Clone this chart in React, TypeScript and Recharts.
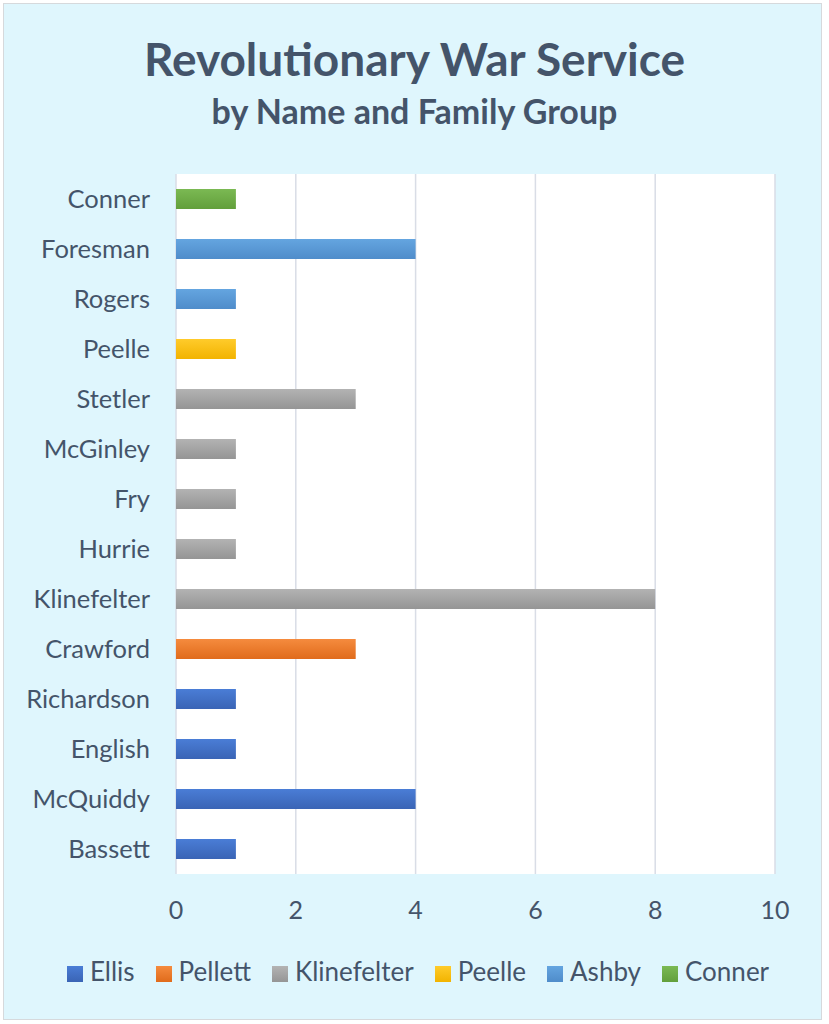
import React from 'react';
import {
  BarChart,
  Bar,
  XAxis,
  YAxis,
  CartesianGrid,
  Legend,
} from 'recharts';

// categories top to bottom, with the family group each belongs to
const names = [
  'Conner', 'Foresman', 'Rogers', 'Peelle', 'Stetler', 'McGinley', 'Fry',
  'Hurrie', 'Klinefelter', 'Crawford', 'Richardson', 'English', 'McQuiddy', 'Bassett',
];
const groupOf = [
  'Conner', 'Ashby', 'Ashby', 'Peelle', 'Klinefelter', 'Klinefelter', 'Klinefelter',
  'Klinefelter', 'Klinefelter', 'Pellett', 'Ellis', 'Ellis', 'Ellis', 'Ellis',
];
const counts = [1, 4, 1, 1, 3, 1, 1, 1, 8, 3, 1, 1, 4, 1];

const groups = ['Ellis', 'Pellett', 'Klinefelter', 'Peelle', 'Ashby', 'Conner'];
const xTicks = [0, 2, 4, 6, 8, 10];

const groupColors: Record<string, [string, string, string]> = {
  // [legend color, gradient top, gradient bottom]
  Ellis: ['#4472C4', '#4A7DD6', '#3A64B5'],
  Pellett: ['#ED7D31', '#F58B3E', '#E06B1B'],
  Klinefelter: ['#A5A5A5', '#B3B3B3', '#959595'],
  Peelle: ['#FFC000', '#FFCB2B', '#F2B300'],
  Ashby: ['#5B9BD5', '#64A5E0', '#4F8CCA'],
  Conner: ['#70AD47', '#7BB953', '#629F3B'],
};

const rows = names.map((name, i) => {
  const row: Record<string, string | number | null> = { name };
  groups.forEach((g) => {
    row[g] = groupOf[i] === g ? counts[i] : null;
  });
  return row;
});

const FONT = 'Lato, "Open Sans", sans-serif';
const INK = '#44546A';

const App: React.FC = () => {
  return (
    <div style={{ position: 'absolute', left: 0, top: 0, width: 829, height: 1024, background: '#fff' }}>
      <div
        style={{
          position: 'absolute',
          left: 3,
          top: 3,
          width: 817,
          height: 1015,
          background: '#DFF6FD',
          border: '1px solid #D6D9DC',
        }}
      />
      <div
        style={{
          position: 'absolute',
          left: 0,
          top: 31,
          width: 829,
          textAlign: 'center',
          fontFamily: FONT,
          fontWeight: 700,
          fontSize: 46,
          lineHeight: '56px',
          color: INK,
        }}
      >
        Revolutionary War Service
      </div>
      <div
        style={{
          position: 'absolute',
          left: 0,
          top: 90,
          width: 829,
          textAlign: 'center',
          fontFamily: FONT,
          fontWeight: 700,
          fontSize: 34,
          lineHeight: '42px',
          color: INK,
        }}
      >
        by Name and Family Group
      </div>
      <div style={{ position: 'absolute', left: 0, top: 0 }}>
        <BarChart
          width={829}
          height={1024}
          data={rows}
          layout="vertical"
          barSize={20}
          margin={{ top: 174, right: 54, left: 0, bottom: 78 }}
          style={{ fontFamily: FONT }}
        >
          <defs>
            {groups.map((g) => (
              <linearGradient key={g} id={`grad-${g}`} x1="0" y1="0" x2="0" y2="1">
                <stop offset="0%" stopColor={groupColors[g][1]} />
                <stop offset="100%" stopColor={groupColors[g][2]} />
              </linearGradient>
            ))}
          </defs>
          <CartesianGrid horizontal={false} fill="#FFFFFF" stroke="#D9DDE6" strokeWidth={1.5} />
          <XAxis
            type="number"
            domain={[0, 10]}
            ticks={xTicks}
            height={40}
            axisLine={false}
            tickLine={false}
            tickSize={0}
            tickMargin={27}
            tick={{ fill: INK, fontSize: 25 }}
          />
          <YAxis
            type="category"
            dataKey="name"
            width={176}
            axisLine={false}
            tickLine={false}
            tickSize={0}
            tickMargin={26}
            interval={0}
            tick={{ fill: INK, fontSize: 25.5 }}
          />
          <Legend
            verticalAlign="bottom"
            align="center"
            iconType="square"
            iconSize={16}
            itemSorter={(item: { dataKey?: string }) => groups.indexOf(String(item.dataKey))}
            wrapperStyle={{ top: 955, left: 14, width: 829, fontSize: 26 }}
            formatter={(value: string) => (
              <span style={{ color: INK, fontFamily: FONT, marginLeft: 3, marginRight: 11 }}>{value}</span>
            )}
          />
          {groups.map((g) => (
            <Bar
              key={g}
              dataKey={g}
              name={g}
              stackId="s"
              fill={`url(#grad-${g})`}
              color={groupColors[g][0]}
              isAnimationActive={false}
            />
          ))}
        </BarChart>
      </div>
    </div>
  );
};

export default App;
